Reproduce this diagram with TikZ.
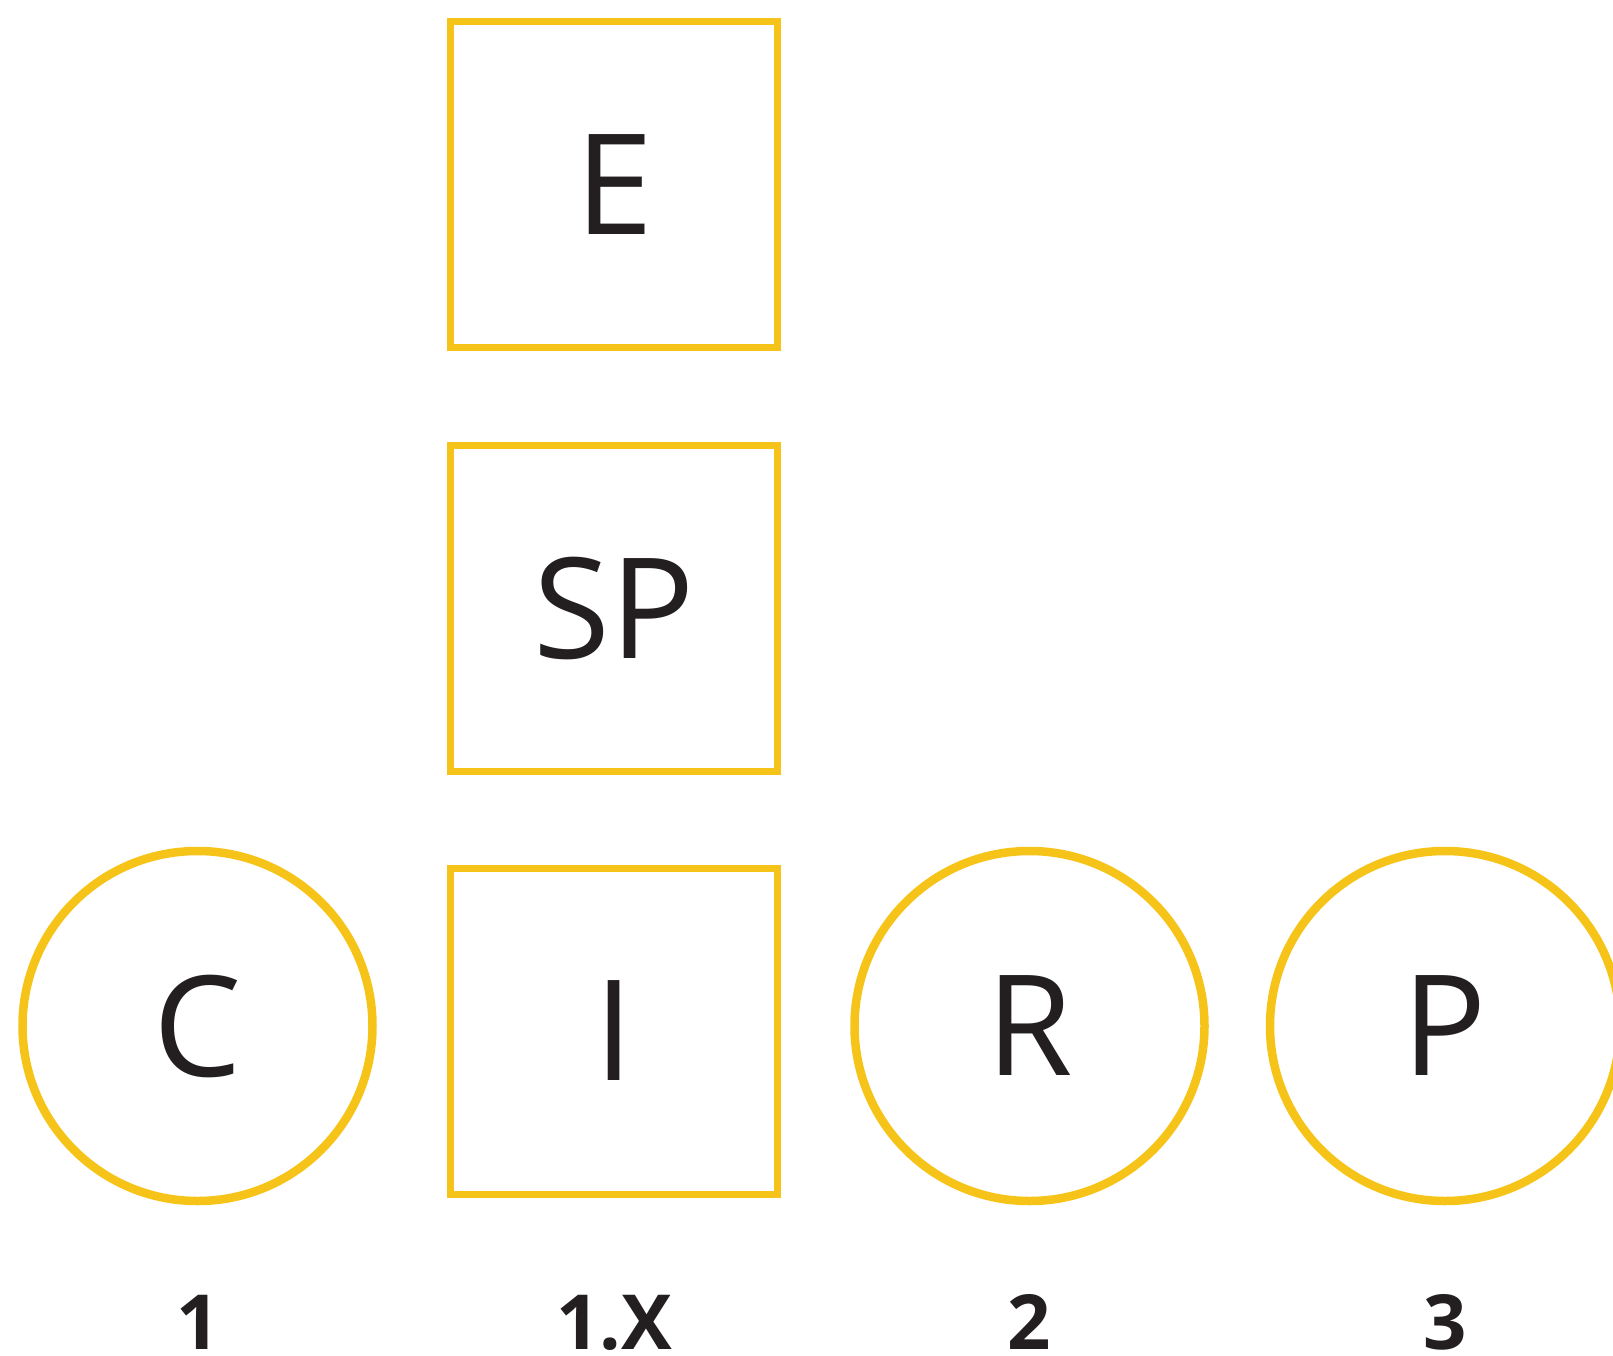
\documentclass[tikz,border=0pt]{standalone}
\usepackage{fontspec}
\setmainfont{Open Sans}
\definecolor{boxyellow}{RGB}{246,196,24}
\definecolor{ink}{RGB}{35,31,32}
\begin{document}
\begin{tikzpicture}[x=1pt,y=-1pt,
  box/.style={draw=boxyellow,line width=7pt,minimum width=327pt,minimum height=326pt,inner sep=0pt,text=ink,font=\fontsize{140}{144}\selectfont},
  ring/.style={draw=boxyellow,line width=8.5pt,circle,minimum size=350pt,inner sep=0pt,text=ink,font=\fontsize{140}{144}\selectfont},
  tag/.style={anchor=base,text=ink,inner sep=0pt,font=\fontsize{76}{80}\selectfont\bfseries}]
\useasboundingbox (0,0) rectangle (1613,1356);
\node[box] (E) at (614,184.5) {E};
\node[box] (SP) at (614,608) {SP};
\node[box] (I) at (614,1031) {I};
\node[ring] (C) at (197.5,1026) {C};
\node[ring] (R) at (1029.5,1026) {R};
\node[ring] (P) at (1445,1026) {P};
\node[tag] (t1) at (198,1349) {1};
\node[tag] (t1x) at (614,1349) {1.X};
\node[tag] (t2) at (1029.5,1349) {2};
\node[tag] (t3) at (1445,1349) {3};
\end{tikzpicture}
\end{document}
